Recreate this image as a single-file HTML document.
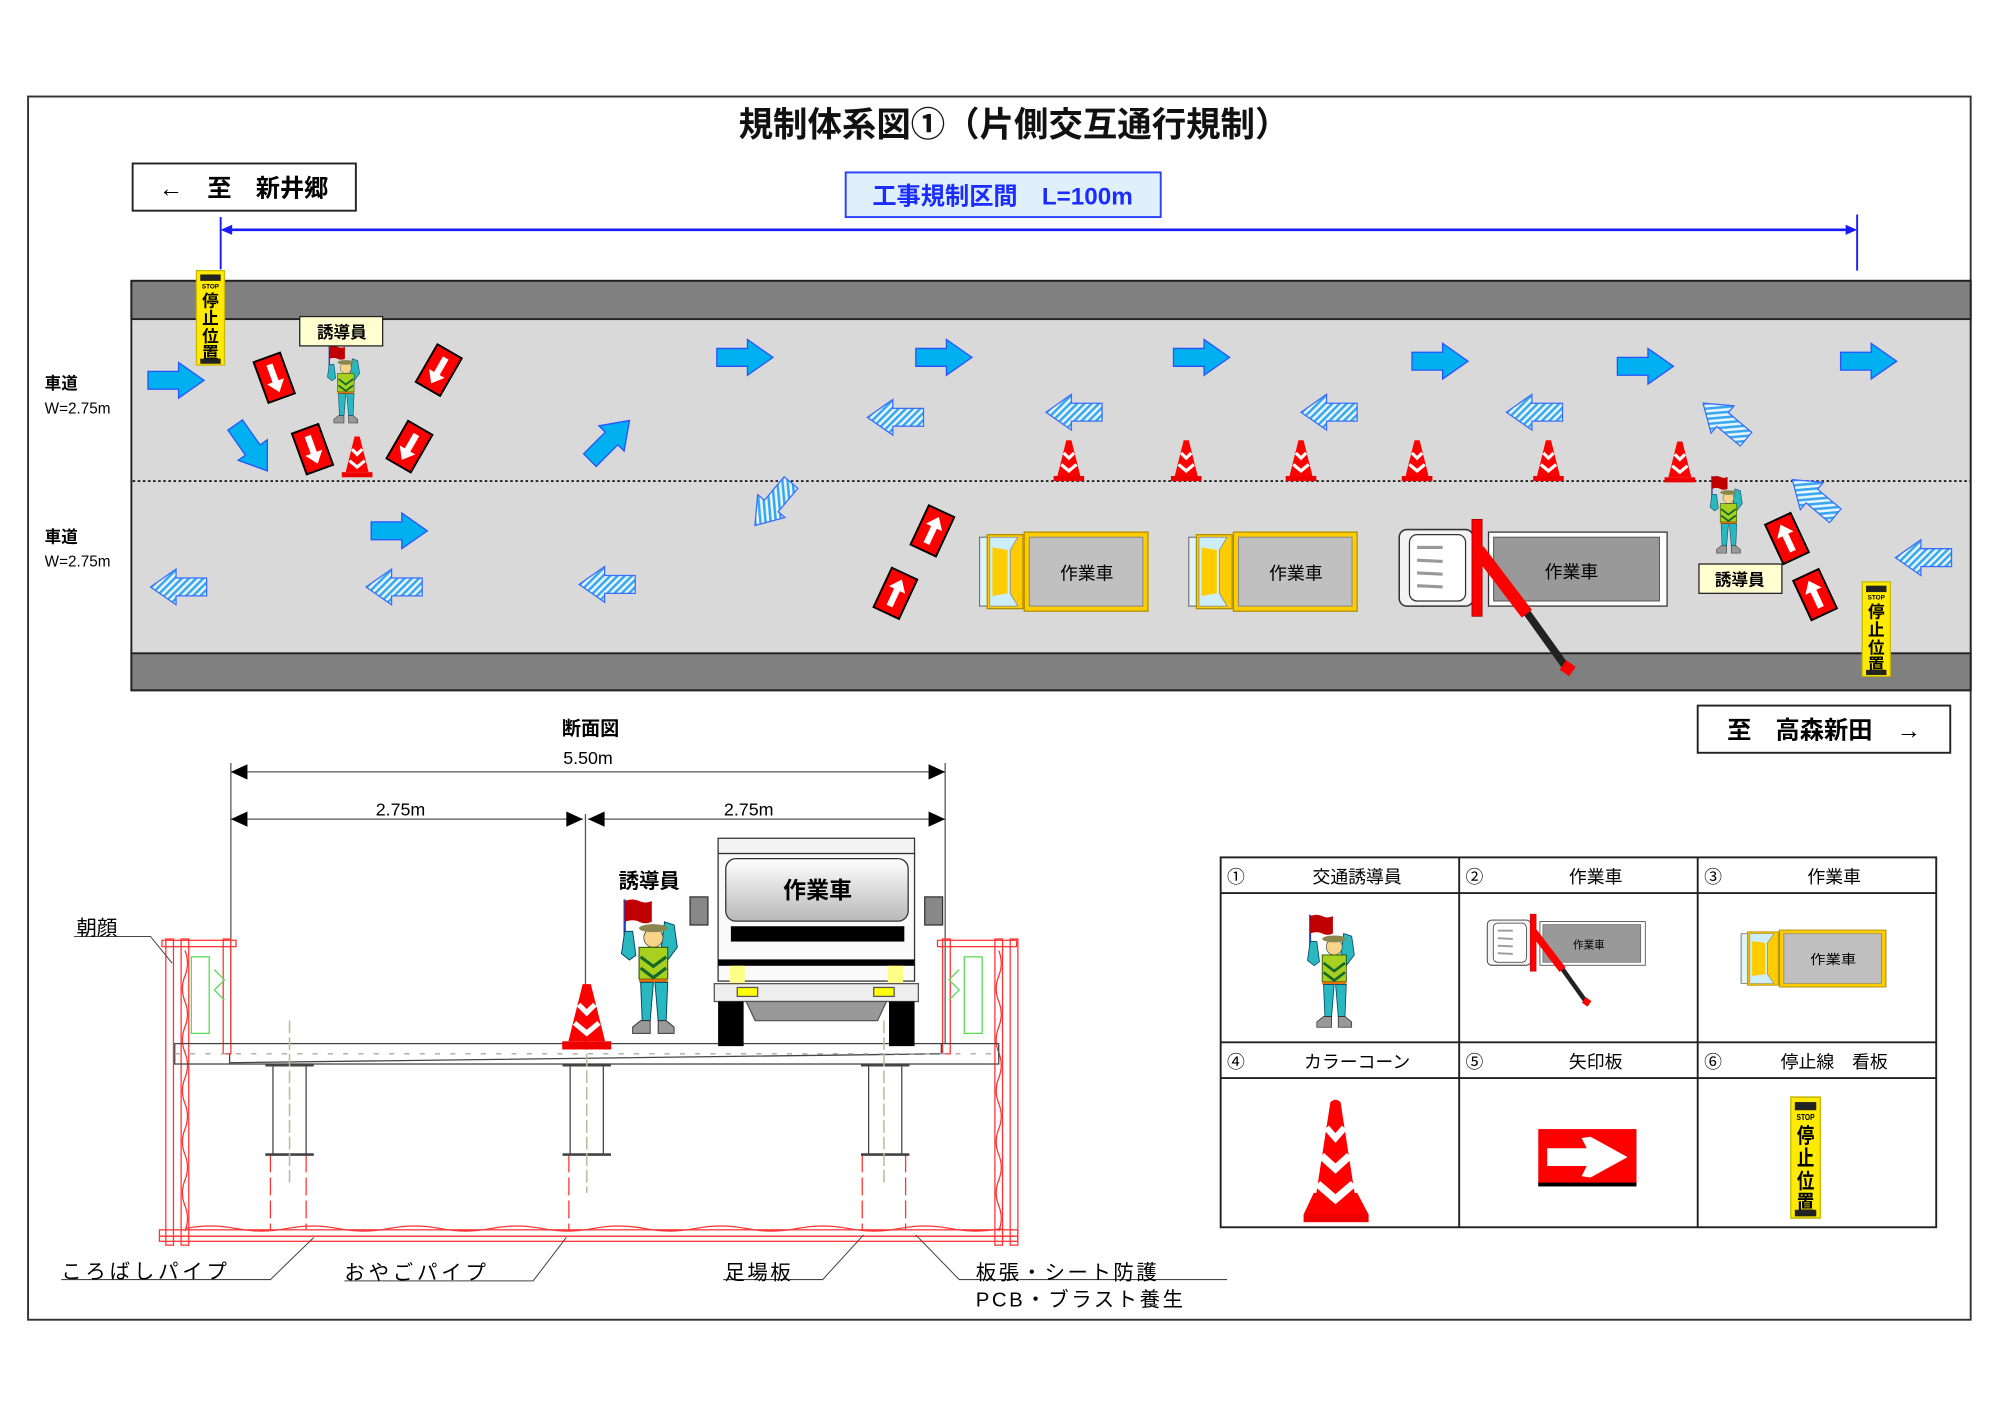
<!DOCTYPE html>
<html><head><meta charset="utf-8"><style>
html,body{margin:0;padding:0;background:#fff}
svg{display:block}
text{font-family:"Liberation Sans","Noto Sans CJK JP",sans-serif}
</style></head><body>
<svg width="2000" height="1415" viewBox="0 0 1568 1109" xmlns="http://www.w3.org/2000/svg">
<defs>
<pattern id="hatch" width="4" height="4" patternUnits="userSpaceOnUse" patternTransform="rotate(45)">
<rect width="4" height="4" fill="#e8f6ff"/><rect width="2" height="4" fill="#39a7ee"/></pattern>
<linearGradient id="gpan" x1="0" y1="0" x2="0" y2="1"><stop offset="0" stop-color="#fff"/><stop offset="1" stop-color="#b8b8b8"/></linearGradient>
<g id="ar"><polygon points="-22,-7 2,-7 2,-14 22,0 2,14 2,7 -22,7" fill="#00b0f0" stroke="#2a50ff" stroke-width="1"/></g>
<g id="al"><polygon points="22,-7 -2,-7 -2,-14 -22,0 -2,14 -2,7 22,7" fill="url(#hatch)" stroke="#3a6cff" stroke-width="1"/></g>
<g id="cone"><rect x="-12" y="12" width="24" height="4" fill="#e00"/><polygon points="-2,-16 2,-16 9,12 -9,12" fill="#f00"/>
<polyline points="-4,-6 0,-2 4,-6" stroke="#fff" stroke-width="2.5" fill="none"/><polyline points="-6,3 0,8 6,3" stroke="#fff" stroke-width="2.5" fill="none"/></g>
<g id="rb"><rect x="-11" y="-17" width="22" height="34" fill="#f00" stroke="#000" stroke-width="1.5"/>
<polygon points="-2.5,-11 2.5,-11 2.5,3 7,3 0,12 -7,3 -2.5,3" fill="#fff"/></g>
<g id="stop"><rect x="0" y="0" width="22" height="74" fill="#ffea00" stroke="#c8b800" stroke-width="1"/>
<rect x="3" y="3" width="16" height="5" fill="#222"/><text x="11" y="14" font-size="5" text-anchor="middle" font-weight="bold">STOP</text>
<text x="11" y="28" font-size="13" text-anchor="middle" font-weight="bold">停</text><text x="11" y="42" font-size="13" text-anchor="middle" font-weight="bold">止</text>
<text x="11" y="56" font-size="13" text-anchor="middle" font-weight="bold">位</text><text x="11" y="69" font-size="13" text-anchor="middle" font-weight="bold">置</text>
<rect x="3" y="69" width="16" height="4" fill="#222"/></g>
<g id="person">
<line x1="3" y1="0" x2="3" y2="28" stroke="#2040c0" stroke-width="1.5"/>
<path d="M3,1 Q8,-1 12,1 Q16,3 20,1 L20,14 Q16,16 12,14 Q8,12 3,14 Z" fill="#c00000"/>
<polygon points="3,20 8,20 10,35 6,38 1,34" fill="#2ab8c0" stroke="#046" stroke-width="0.6"/>
<polygon points="28,14 34,16 36,30 30,38 26,30" fill="#2ab8c0" stroke="#046" stroke-width="0.6"/>
<circle cx="21" cy="24" r="6" fill="#f6d58a" stroke="#444" stroke-width="0.5"/>
<ellipse cx="21" cy="18" rx="9" ry="2.5" fill="#8a8650"/>
<rect x="12" y="30" width="18" height="20" fill="#a8d020" stroke="#240" stroke-width="0.6"/>
<polyline points="13,36 21,42 29,36" stroke="#156a2a" stroke-width="2" fill="none"/><polyline points="13,43 21,49 29,43" stroke="#156a2a" stroke-width="2" fill="none"/>
<rect x="12" y="50" width="18" height="2" fill="#e87000"/>
<polygon points="13,52 21,52 19,76 14,76" fill="#2ab8c0" stroke="#046" stroke-width="0.6"/>
<polygon points="22,52 30,52 29,76 24,76" fill="#2ab8c0" stroke="#046" stroke-width="0.6"/>
<path d="M13,76 L19,76 L19,84 L8,84 L8,80 Z" fill="#999" stroke="#333" stroke-width="0.6"/>
<path d="M24,76 L29,76 L34,80 L34,84 L24,84 Z" fill="#999" stroke="#333" stroke-width="0.6"/>
</g>
<g id="truckY">
<rect x="0" y="4" width="8" height="54" fill="#dff3f8" stroke="#666" stroke-width="0.8"/>
<rect x="6" y="2" width="28" height="58" fill="#ffcc00" stroke="#b09000" stroke-width="1"/>
<polygon points="8,4 30,4 24,14 24,48 30,58 8,58" fill="#cdeef8" stroke="#78a" stroke-width="0.6"/>
<polygon points="10,12 22,14 22,48 10,50" fill="#ffcc00"/>
<rect x="35" y="0" width="97" height="62" fill="#ffcc00" stroke="#b09000" stroke-width="1"/>
<rect x="39" y="4" width="89" height="54" fill="#c0c0c0" stroke="#888" stroke-width="0.8"/>
<text x="84" y="37" font-size="14" text-anchor="middle">作業車</text>
</g>
<g id="crane">
<rect x="0" y="2" width="58" height="60" rx="6" fill="#f4f4f4" stroke="#333" stroke-width="1.2"/>
<rect x="8" y="6" width="44" height="52" rx="6" fill="#fff" stroke="#333" stroke-width="1"/>
<g stroke="#999" stroke-width="2.5"><line x1="14" y1="16" x2="34" y2="16"/><line x1="14" y1="26" x2="34" y2="27"/><line x1="14" y1="36" x2="34" y2="37"/><line x1="14" y1="46" x2="34" y2="47"/></g>
<rect x="70" y="4" width="140" height="58" fill="#fff" stroke="#333" stroke-width="1"/>
<rect x="74" y="8" width="130" height="50" fill="#999" stroke="#555" stroke-width="0.8"/>
<text x="135" y="40" font-size="14" text-anchor="middle">作業車</text>
<rect x="57" y="-6" width="8" height="76" fill="#f00" stroke="#900" stroke-width="0.6"/>
<line x1="95" y1="60" x2="133" y2="113" stroke="#222" stroke-width="6"/>
<line x1="62" y1="18" x2="100" y2="68" stroke="#f00" stroke-width="10"/>
<rect x="128" y="106" width="9" height="9" fill="#f00" transform="rotate(35 132 110)"/>
</g>
</defs>

<rect x="0" y="0" width="1568" height="1109" fill="#fff"/>
<rect x="22" y="75.5" width="1523" height="959" fill="none" stroke="#333" stroke-width="1.5"/>
<text x="795" y="107" font-size="27" font-weight="bold" text-anchor="middle" fill="#111">規制体系図①（片側交互通行規制）</text>

<rect x="104" y="128" width="175" height="37" fill="#fff" stroke="#222" stroke-width="1.5"/>
<text x="191" y="154" font-size="19" font-weight="bold" text-anchor="middle">←　至　新井郷</text>
<rect x="663" y="135" width="247" height="35" fill="#dff0fa" stroke="#2a40ff" stroke-width="1.5"/>
<text x="786" y="160" font-size="19" font-weight="bold" text-anchor="middle" fill="#1a2cff">工事規制区間　L=100m</text>
<line x1="173" y1="170" x2="173" y2="211" stroke="#1a1aff" stroke-width="1.5"/>
<line x1="1456" y1="168" x2="1456" y2="212" stroke="#1a1aff" stroke-width="1.5"/>
<line x1="177" y1="180" x2="1452" y2="180" stroke="#1a1aff" stroke-width="2"/>
<polygon points="173,180 182,176 182,184" fill="#1a1aff"/><polygon points="1456,180 1447,176 1447,184" fill="#1a1aff"/>

<rect x="103" y="220" width="1442" height="321" fill="#d9d9d9" stroke="#222" stroke-width="1.5"/>
<rect x="103" y="220" width="1442" height="30" fill="#808080" stroke="#222" stroke-width="1.5"/>
<rect x="103" y="512" width="1442" height="29" fill="#808080" stroke="#222" stroke-width="1.5"/>
<line x1="104" y1="377" x2="1545" y2="377" stroke="#222" stroke-width="1.5" stroke-dasharray="2,2"/>
<text x="35" y="305" font-size="13" font-weight="bold">車道</text><text x="35" y="324" font-size="12">W=2.75m</text>
<text x="35" y="425" font-size="13" font-weight="bold">車道</text><text x="35" y="444" font-size="12">W=2.75m</text>

<use href="#ar" x="138" y="298"/><use href="#ar" x="584" y="280"/><use href="#ar" x="740" y="280"/>
<use href="#ar" x="942" y="280"/><use href="#ar" x="1129" y="283"/><use href="#ar" x="1290" y="287"/>
<use href="#ar" x="1465" y="283"/><use href="#ar" x="313" y="416"/>
<use href="#ar" transform="translate(197,351) rotate(55)"/><use href="#ar" transform="translate(478,345) rotate(-45)"/>
<use href="#al" x="702" y="327"/><use href="#al" x="842" y="323"/><use href="#al" x="1042" y="323"/>
<use href="#al" x="1203" y="323"/><use href="#al" x="140" y="460"/><use href="#al" x="309" y="460"/>
<use href="#al" x="476" y="458"/><use href="#al" x="1508" y="437"/>
<use href="#al" transform="translate(606,395) rotate(-50)"/><use href="#al" transform="translate(1352,330) rotate(40)"/>
<use href="#al" transform="translate(1422,390) rotate(40)"/>

<use href="#rb" transform="translate(215,296) rotate(-20)"/><use href="#rb" transform="translate(344,290) rotate(30)"/>
<use href="#rb" transform="translate(245,352) rotate(-20)"/><use href="#rb" transform="translate(321,350) rotate(30)"/>
<use href="#rb" transform="translate(731,416) rotate(205)"/><use href="#rb" transform="translate(702,465) rotate(205)"/>
<use href="#rb" transform="translate(1401,422) rotate(155)"/><use href="#rb" transform="translate(1423,466) rotate(155)"/>

<use href="#cone" x="280" y="358"/><use href="#cone" x="838" y="361"/><use href="#cone" x="930" y="361"/>
<use href="#cone" x="1020" y="361"/><use href="#cone" x="1111" y="361"/><use href="#cone" x="1214" y="361"/><use href="#cone" x="1317" y="362"/>

<use href="#stop" x="154" y="212"/><use href="#stop" x="1460" y="456"/>

<use href="#person" transform="translate(256,271) scale(0.72)"/>
<rect x="235" y="248" width="65" height="23" fill="#ffffd0" stroke="#222"/>
<text x="268" y="265" font-size="13" font-weight="bold" text-anchor="middle">誘導員</text>
<use href="#person" transform="translate(1340,373) scale(0.72)"/>
<rect x="1332" y="442" width="65" height="23" fill="#ffffd0" stroke="#222"/>
<text x="1364" y="459" font-size="13" font-weight="bold" text-anchor="middle">誘導員</text>

<use href="#truckY" x="768" y="417"/><use href="#truckY" x="932" y="417"/>
<use href="#crane" x="1097" y="413"/>

<rect x="1331" y="553" width="198" height="37" fill="#fff" stroke="#222" stroke-width="1.5"/>
<text x="1430" y="579" font-size="19" font-weight="bold" text-anchor="middle">至　高森新田　→</text>

<text x="463" y="576" font-size="15" font-weight="bold" text-anchor="middle">断面図</text>
<text x="461" y="599" font-size="14" text-anchor="middle">5.50m</text>
<g stroke="#555" stroke-width="1" fill="none">
<line x1="181" y1="598" x2="181" y2="818"/><line x1="741" y1="598" x2="741" y2="818"/><line x1="459" y1="638" x2="459" y2="818"/>
<line x1="181" y1="605" x2="741" y2="605"/><line x1="181" y1="642" x2="457" y2="642"/><line x1="461" y1="642" x2="741" y2="642"/>
</g>
<g fill="#000"><polygon points="181,605 194,599 194,611"/><polygon points="741,605 728,599 728,611"/>
<polygon points="181,642 194,636 194,648"/><polygon points="457,642 444,636 444,648"/>
<polygon points="461,642 474,636 474,648"/><polygon points="741,642 728,636 728,648"/></g>
<text x="314" y="639" font-size="14" text-anchor="middle">2.75m</text>
<text x="587" y="639" font-size="14" text-anchor="middle">2.75m</text>

<g stroke="#f33" stroke-width="1" fill="none">
<rect x="130" y="736" width="6" height="240"/><rect x="142" y="736" width="6" height="240"/><rect x="175" y="736" width="6" height="90"/>
<rect x="127" y="737" width="58" height="5"/>
<rect x="780" y="736" width="6" height="240"/><rect x="792" y="736" width="6" height="240"/><rect x="739" y="736" width="6" height="90"/>
<rect x="735" y="737" width="62" height="5"/>
<rect x="125" y="964" width="673" height="5"/><rect x="125" y="969" width="673" height="4"/>
<path d="M145,745 q4,10 0,20 q-4,10 0,20 q4,10 0,20 q-4,10 0,20 q4,10 0,20 q-4,10 0,20 q4,10 0,20 q-4,10 0,20 q4,10 0,20 q-4,10 0,20 q4,10 0,20"/>
<path d="M783,745 q4,10 0,20 q-4,10 0,20 q4,10 0,20 q-4,10 0,20 q4,10 0,20 q-4,10 0,20 q4,10 0,20 q-4,10 0,20 q4,10 0,20 q-4,10 0,20 q4,10 0,20"/>
<path d="M145,963 q20,-4 40,0 q20,4 40,0 q20,-4 40,0 q20,4 40,0 q20,-4 40,0 q20,4 40,0 q20,-4 40,0 q20,4 40,0 q20,-4 40,0 q20,4 40,0 q20,-4 40,0 q20,4 40,0 q20,-4 40,0 q20,4 40,0 q20,-4 40,0 q20,4 40,0"/>
<g stroke-dasharray="14,4"><line x1="212" y1="905" x2="212" y2="964"/><line x1="446" y1="905" x2="446" y2="964"/><line x1="676" y1="905" x2="676" y2="964"/>
<line x1="240" y1="905" x2="240" y2="964"/><line x1="710" y1="905" x2="710" y2="964"/></g>
</g>
<g stroke="#5d5" stroke-width="1" fill="none"><rect x="150" y="750" width="14" height="60"/><rect x="756" y="750" width="14" height="60"/>
<polyline points="168,760 176,768 168,776 176,784"/><polyline points="752,760 744,768 752,776 744,784"/></g>
<g stroke="#444" stroke-width="1" fill="none">
<path d="M180,826 L180,833 L738,826 L738,818"/>
<rect x="137" y="818" width="646" height="16"/><line x1="137" y1="826" x2="783" y2="826" stroke-dasharray="4,8" stroke="#aaa"/>
<rect x="214" y="835" width="26" height="70"/><rect x="447" y="835" width="26" height="70"/><rect x="681" y="835" width="26" height="70"/>
<line x1="208" y1="835" x2="246" y2="835" stroke-width="2"/><line x1="208" y1="905" x2="246" y2="905" stroke-width="2"/>
<line x1="441" y1="835" x2="479" y2="835" stroke-width="2"/><line x1="441" y1="905" x2="479" y2="905" stroke-width="2"/>
<line x1="675" y1="835" x2="713" y2="835" stroke-width="2"/><line x1="675" y1="905" x2="713" y2="905" stroke-width="2"/>
</g>
<g stroke="#bb9" stroke-width="1.2" stroke-dasharray="10,3"><line x1="227" y1="800" x2="227" y2="930"/><line x1="460" y1="800" x2="460" y2="935"/><line x1="693" y1="800" x2="693" y2="930"/></g>

<rect x="563" y="657" width="154" height="12" fill="#f4f4f4" stroke="#333"/>
<rect x="563" y="669" width="154" height="100" fill="#fafafa" stroke="#333"/>
<rect x="569" y="673" width="143" height="49" rx="8" fill="url(#gpan)" stroke="#333"/>
<text x="641" y="704" font-size="18" font-weight="bold" text-anchor="middle">作業車</text>
<rect x="541" y="703" width="14" height="22" fill="#888" stroke="#333"/><rect x="725" y="703" width="14" height="22" fill="#888" stroke="#333"/>
<rect x="573" y="726" width="136" height="12" fill="#000"/>
<rect x="563" y="752" width="154" height="5" fill="#000"/>
<rect x="572" y="757" width="12" height="14" fill="#ff8"/><rect x="696" y="757" width="12" height="14" fill="#ff8"/>
<rect x="560" y="771" width="160" height="14" fill="#eee" stroke="#555"/>
<rect x="578" y="774" width="16" height="7" fill="#ff0" stroke="#555"/><rect x="685" y="774" width="16" height="7" fill="#ff0" stroke="#555"/>
<polygon points="585,785 695,785 688,800 592,800" fill="#999" stroke="#555"/>
<rect x="563" y="785" width="20" height="35" fill="#000"/><rect x="697" y="785" width="20" height="35" fill="#000"/>
<g transform="translate(460,797) scale(1.6)"><use href="#cone"/></g>
<use href="#person" transform="translate(486,705) scale(1.25)"/>
<text x="509" y="696" font-size="16" font-weight="bold" text-anchor="middle">誘導員</text>

<g stroke="#444" stroke-width="0.8" fill="none">
<polyline points="58,734 118,734 135,755"/>
<polyline points="48,1003 212,1003 246,970"/><polyline points="270,1004 418,1004 444,970"/>
<polyline points="567,1003 645,1003 677,968"/><polyline points="962,1003 752,1003 718,968"/>
</g>
<text x="60" y="733" font-size="16">朝顔</text>
<text x="48" y="1002" font-size="16" letter-spacing="3">ころばしパイプ</text>
<text x="270" y="1003" font-size="16" letter-spacing="3">おやごパイプ</text>
<text x="568" y="1003" font-size="16" letter-spacing="2">足場板</text>
<text x="765" y="1003" font-size="16" letter-spacing="2">板張・シート防護</text>
<text x="765" y="1024" font-size="16" letter-spacing="2">PCB・ブラスト養生</text>

<g stroke="#222" stroke-width="1.5" fill="none">
<rect x="957" y="672" width="561" height="290"/>
<line x1="1144" y1="672" x2="1144" y2="962"/><line x1="1331" y1="672" x2="1331" y2="962"/>
<line x1="957" y1="700" x2="1518" y2="700"/><line x1="957" y1="817" x2="1518" y2="817"/><line x1="957" y1="845" x2="1518" y2="845"/>
</g>
<g font-size="14">
<text x="962" y="692">①</text><text x="1064" y="692" text-anchor="middle">交通誘導員</text>
<text x="1149" y="692">②</text><text x="1251" y="692" text-anchor="middle">作業車</text>
<text x="1336" y="692">③</text><text x="1438" y="692" text-anchor="middle">作業車</text>
<text x="962" y="837">④</text><text x="1064" y="837" text-anchor="middle">カラーコーン</text>
<text x="1149" y="837">⑤</text><text x="1251" y="837" text-anchor="middle">矢印板</text>
<text x="1336" y="837">⑥</text><text x="1438" y="837" text-anchor="middle">停止線　看板</text>
</g>
<use href="#person" transform="translate(1024,717) scale(1.05)"/>
<use href="#crane" transform="translate(1166,720) scale(0.59)"/>
<use href="#truckY" transform="translate(1365,729) scale(0.86,0.72)"/>
<!-- legend cone -->
<rect x="1022" y="952" width="51" height="6" fill="#e00"/>
<polygon points="1022,952 1030,935 1064,935 1073,952" fill="#f00"/>
<path d="M1043,864 Q1047,860 1051,864 L1064,948 Q1047,956 1030,948 Z" fill="#f00"/>
<polyline points="1040,884 1047,892 1054,884" stroke="#fff" stroke-width="5" fill="none"/>
<polyline points="1036,906 1047,916 1058,906" stroke="#fff" stroke-width="6" fill="none"/>
<polyline points="1033,928 1047,940 1061,928" stroke="#fff" stroke-width="6" fill="none"/>
<rect x="1206" y="885" width="77" height="44" fill="#f00"/><rect x="1206" y="927" width="77" height="3" fill="#000"/>
<polygon points="1213,900 1244,900 1240,892 1247,891 1276,907 1247,923 1240,922 1244,914 1213,914" fill="#fff"/>
<use href="#stop" transform="translate(1404,860) scale(1.05,1.28)"/>
</svg>
</body></html>
